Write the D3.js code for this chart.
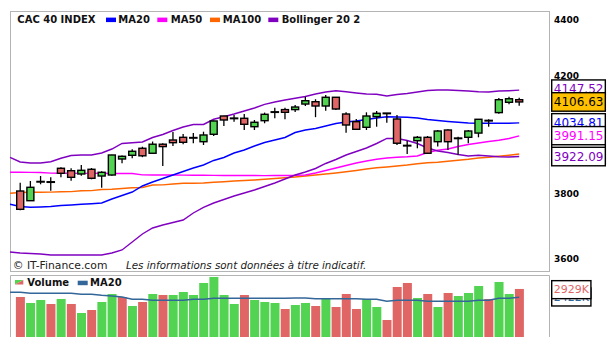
<!DOCTYPE html>
<html>
<head>
<meta charset="utf-8">
<script src="https://cdn.jsdelivr.net/npm/d3@7"></script>
<style>
body { margin: 0; background: #fff; }
text { font-family: "DejaVu Sans", Verdana, sans-serif; }
</style>
</head>
<body>
<div id="chart"></div>
<script>
// 50 sessions, CAC 40 daily candles
var opens  = [3809.9,3778.9,3839.5,3839.0,3883.5,3875.6,3864.9,3880.2,3858.3,3861.6,
              3914.0,3926.2,3949.5,3932.9,3963.0,3977.1,3986.1,3984.0,3971.4,3996.3,
              4058.3,4050.0,4050.5,4021.9,4042.3,4071.5,4080.2,4080.2,4099.4,4107.4,
              4092.6,4122.8,4065.1,4038.9,4019.9,4055.9,4068.5,4048.1,3958.5,3974.7,
              3986.1,3971.4,4010.7,3982.5,3986.1,4000.4,4042.5,4069.9,4105.4,4114.4];
var highs  = [3836.6,3842.2,3858.3,3854.1,3886.8,3883.5,3894.3,3884.5,3873.7,3928.2,
              3925.5,3946.1,3954.8,3972.0,3966.3,4003.7,3997.2,4000.4,4005.0,4043.0,
              4059.3,4061.7,4065.1,4044.7,4069.9,4087.0,4087.0,4096.0,4124.8,4116.0,
              4130.7,4124.0,4070.9,4048.1,4070.9,4075.5,4068.8,4061.7,3974.7,3990.6,
              3990.6,4010.7,4013.1,3988.2,4010.7,4047.1,4047.1,4120.3,4124.8,4120.9];
var lows   = [3749.0,3778.0,3831.5,3810.9,3854.1,3843.1,3859.3,3847.6,3820.5,3859.3,
              3899.9,3916.3,3920.0,3932.0,3891.0,3957.1,3963.0,3966.3,3960.4,3990.6,
              4024.3,4038.9,4010.7,4010.7,4033.5,4050.5,4047.1,4072.0,4092.6,4054.3,
              4076.5,4078.9,4001.6,4010.7,4010.7,4021.9,4034.9,3960.4,3930.5,3949.5,
              3930.5,3955.1,3943.8,3927.2,3966.3,3986.1,4021.9,4066.1,4098.4,4093.6];
var closes = [3751.6,3821.8,3840.0,3838.5,3867.1,3854.1,3876.9,3850.9,3870.4,3927.2,
              3922.9,3939.5,3924.5,3963.0,3955.1,3968.1,3969.4,3984.8,3993.9,4041.3,
              4044.7,4050.5,4030.1,4036.9,4064.1,4072.0,4071.0,4089.1,4110.9,4092.6,
              4122.8,4082.3,4027.7,4013.1,4058.3,4067.5,4066.1,3966.3,3958.0,3986.1,
              3932.9,4007.3,3971.4,3983.0,4007.3,4047.1,4042.3,4114.4,4117.7,4106.63];
var prevClose = 3800;

// volumes in thousands
var volumes = [2440,2074,2257,2013,2318,2013,1464,1647,2135,2623,
               2440,1891,2135,2623,2562,2562,2745,2562,3294,3660,
               2562,2013,2562,2257,2135,2074,1708,1952,2074,1891,
               2318,1830,2623,1708,2318,1830,1037,3050,3294,2379,
               2623,1830,2684,2501,2684,3111,2318,3355,2623,2929];

// indicator lines: first value is the session before the first candle
var ma20 = [3767.5,3760.5,3758.0,3758.9,3760.5,3763.7,3765.3,3767.5,3769.4,3771.6,3784.3,
            3795.5,3806.7,3826.0,3838.9,3850.3,3861.6,3873.0,3884.4,3894.3,3909.1,
            3918.9,3933.8,3943.8,3957.1,3968.8,3977.1,3985.5,4002.3,4010.7,4015.8,
            4024.3,4032.8,4037.9,4041.3,4046.4,4051.5,4055.9,4054.9,4053.9,4051.5,
            4046.4,4043.0,4039.6,4036.9,4034.5,4033.5,4033.5,4033.5,4033.5,4034.81];
var ma50 = [3870.4,3870.4,3870.0,3869.5,3867.8,3867.1,3867.1,3866.8,3866.9,3867.1,3866.5,
            3867.0,3866.4,3862.0,3861.6,3861.4,3861.6,3861.2,3861.0,3860.8,3860.3,
            3860.0,3860.0,3859.8,3860.0,3859.6,3859.9,3860.2,3860.5,3861.6,3868.1,
            3876.3,3884.4,3892.7,3900.9,3907.4,3913.0,3917.3,3919.9,3921.2,3923.9,
            3935.5,3943.1,3947.1,3955.4,3962.1,3967.1,3972.1,3976.1,3982.2,3991.15];
var ma100 = [3802.5,3805.2,3805.7,3806.0,3806.4,3807.3,3807.9,3810.5,3811.2,3814.7,3815.4,
             3817.9,3820.5,3821.2,3829.2,3829.6,3832.4,3834.7,3835.0,3835.7,3837.9,
             3839.9,3842.2,3843.8,3845.4,3847.7,3850.3,3852.5,3855.1,3858.3,3861.6,
             3864.9,3868.1,3872.0,3876.3,3881.2,3885.1,3887.7,3891.0,3894.3,3898.5,
             3901.5,3903.5,3906.4,3909.7,3913.0,3917.3,3919.6,3922.9,3926.5,3930.5];
var bbUpper = [3919.6,3904.1,3900.9,3900.9,3905.1,3916.3,3925.5,3927.2,3927.2,3933.8,3947.1,
               3965.4,3968.1,3970.4,3985.5,3995.6,4009.0,4020.9,4029.4,4029.4,4047.1,
               4055.9,4065.1,4075.5,4085.7,4098.4,4106.4,4113.3,4119.5,4125.5,4134.2,
               4141.2,4145.7,4141.9,4137.7,4134.2,4133.2,4127.2,4132.5,4136.0,4141.2,
               4146.4,4148.1,4148.1,4146.4,4144.6,4142.2,4141.2,4144.6,4145.7,4147.52];
var bbLower = [3619.2,3616.1,3614.6,3613.1,3610.0,3610.0,3610.0,3610.0,3610.0,3610.0,3616.1,
               3625.3,3649.8,3674.4,3693.0,3702.4,3710.2,3718.0,3740.0,3757.4,3771.6,
               3782.7,3793.9,3803.5,3813.1,3824.4,3835.7,3848.6,3861.6,3871.4,3882.8,
               3899.2,3912.3,3927.2,3938.8,3950.4,3965.4,3982.2,3982.2,3975.4,3965.4,
               3950.4,3940.5,3935.5,3928.9,3923.9,3926.2,3923.9,3921.6,3920.6,3922.09];
var volMa20 = [2727,2727,2666,2666,2666,2666,2666,2605,2605,2544,2501,
               2440,2300,2300,2239,2239,2239,2239,2300,2300,2361,
               2361,2361,2361,2361,2361,2361,2361,2379,2379,2336,
               2336,2336,2336,2336,2300,2300,2178,2239,2239,2239,
               2178,2178,2178,2178,2178,2239,2239,2361,2361,2422];

var priceTicks = [3600, 3800, 4200, 4400];

var RED = "#e06666", GREEN = "#52d452", PURPLE = "#8000c0";

var svg = d3.select("#chart").append("svg")
    .attr("width", 612)
    .attr("height", 354);

var x = d3.scaleLinear().domain([0, 49]).range([20.2, 519.2]);
var y = d3.scaleLog().domain([3600, 4400]).range([258.3, 20]);
var yv = d3.scaleLinear().domain([0, 4000]).range([337, 271.4]);

// frames
svg.append("rect")
    .attr("x", 10.5).attr("y", 11.5)
    .attr("width", 539).attr("height", 260)
    .attr("fill", "none").attr("stroke", "#b4b4b4");
svg.append("path")
    .attr("d", "M10.5,337V275.5H549.5V337")
    .attr("fill", "none").attr("stroke", "#b4b4b4");

// price axis labels
svg.selectAll(".tick-label")
    .data(priceTicks)
    .enter().append("text")
    .attr("class", "tick-label")
    .attr("x", 554)
    .attr("y", function (d) { return y(d) + 3.3; })
    .style("font-size", "9px")
    .style("font-weight", "bold")
    .text(function (d) { return d; });

// indicator lines
var line = d3.line()
    .x(function (d, i) { return x(i - 1); })
    .y(function (d) { return y(d); });

[[ma100, "#ff6600"], [ma50, "#ff00ff"], [bbUpper, PURPLE], [bbLower, PURPLE], [ma20, "#0000ff"]]
    .forEach(function (s) {
        svg.append("path")
            .datum(s[0])
            .attr("fill", "none")
            .attr("stroke", s[1])
            .attr("stroke-width", 1.4)
            .attr("d", line);
    });

// candles
var candles = opens.map(function (o, i) {
    return { i: i, o: o, h: highs[i], l: lows[i], c: closes[i] };
});

var cg = svg.selectAll(".candle")
    .data(candles)
    .enter().append("g")
    .attr("class", "candle");

cg.append("line")
    .attr("x1", function (d) { return x(d.i); })
    .attr("x2", function (d) { return x(d.i); })
    .attr("y1", function (d) { return y(d.h); })
    .attr("y2", function (d) { return y(d.l); })
    .attr("stroke", "#000")
    .attr("stroke-width", 1.3);

cg.each(function (d) {
    var g = d3.select(this);
    var top = y(Math.max(d.o, d.c)), bot = y(Math.min(d.o, d.c));
    if (bot - top < 1.5) {
        g.append("line")
            .attr("x1", x(d.i) - 4.3).attr("x2", x(d.i) + 4.3)
            .attr("y1", (top + bot) / 2).attr("y2", (top + bot) / 2)
            .attr("stroke", "#000").attr("stroke-width", 2);
    } else {
        g.append("rect")
            .attr("x", x(d.i) - 3.5)
            .attr("width", 7)
            .attr("y", top)
            .attr("height", bot - top)
            .attr("fill", d.c >= d.o ? GREEN : RED)
            .attr("stroke", "#000")
            .attr("stroke-width", 1.4);
    }
});

// volume bars, coloured on close vs previous close
svg.selectAll(".vol")
    .data(volumes)
    .enter().append("rect")
    .attr("class", "vol")
    .attr("x", function (d, i) { return x(i) - 4.3; })
    .attr("width", 9)
    .attr("y", function (d) { return yv(d); })
    .attr("height", function (d) { return yv(0) - yv(d); })
    .attr("fill", function (d, i) {
        var pc = i === 0 ? prevClose : closes[i - 1];
        return closes[i] >= pc ? GREEN : RED;
    });

svg.append("path")
    .datum(volMa20)
    .attr("fill", "none")
    .attr("stroke", "#336699")
    .attr("stroke-width", 1.4)
    .attr("d", d3.line()
        .x(function (d, i) { return x(i - 1); })
        .y(function (d) { return yv(d); }));

// legends
function legendItems(items, baseline) {
    items.forEach(function (it) {
        if (it.color) {
            svg.append("rect")
                .attr("x", it.x).attr("y", baseline - 5)
                .attr("width", 10).attr("height", 4.5)
                .attr("fill", it.color);
        }
        svg.append("text")
            .attr("x", it.tx).attr("y", baseline)
            .style("font-size", "10px")
            .style("font-weight", "bold")
            .attr("fill", "#111")
            .text(it.label);
    });
}
legendItems([
    { tx: 17.3, label: "CAC 40 INDEX" },
    { x: 106, tx: 118.3, color: "#0000ff", label: "MA20" },
    { x: 157.3, tx: 170.7, color: "#ff00ff", label: "MA50" },
    { x: 210, tx: 222.7, color: "#ff6600", label: "MA100" },
    { x: 268.3, tx: 281.7, color: PURPLE, label: "Bollinger 20 2" }
], 22.6);

svg.append("polygon").attr("points", "15,280 23.3,280 15,284.5").attr("fill", GREEN);
svg.append("polygon").attr("points", "23.3,280 23.3,284.5 15,284.5").attr("fill", RED);
legendItems([
    { tx: 27.3, label: "Volume" },
    { x: 77.7, tx: 90, color: "#336699", label: "MA20" }
], 285.7);

// copyright line
svg.append("text")
    .attr("x", 12.7).attr("y", 269.3)
    .style("font-size", "10.8px")
    .attr("fill", "#222")
    .text("© IT-Finance.com");
svg.append("text")
    .attr("x", 126).attr("y", 269.3)
    .style("font-size", "10.3px")
    .style("font-style", "italic")
    .attr("fill", "#222")
    .text("Les informations sont données à titre indicatif.");

// last-value boxes
function valueBox(v, label, color, fill, scale, fs, bh, dy) {
    var cy = scale(v) + dy;
    var g = svg.append("g");
    var r = g.append("rect")
        .attr("x", 551.7).attr("y", cy - bh / 2)
        .attr("height", bh)
        .attr("fill", fill)
        .attr("stroke", "#000").attr("stroke-width", 1.4);
    var t = g.append("text")
        .attr("x", 553.8).attr("y", cy + fs * 0.33)
        .style("font-size", fs + "px")
        .attr("fill", color)
        .text(label);
    r.attr("width", t.node().getComputedTextLength() + 4);
}
var last = 49;
valueBox(ma20[last + 1], ma20[last + 1].toFixed(2), "#0000ff", "#fff", y, 12, 18.5, 0);
valueBox(ma50[last + 1], ma50[last + 1].toFixed(2), "#ff00ff", "#fff", y, 12, 18.5, 0);
valueBox(ma100[last + 1], ma100[last + 1].toFixed(2), "#ff6600", "#fff", y, 12, 18.5, 0);
valueBox(bbUpper[last + 1], bbUpper[last + 1].toFixed(2), PURPLE, "#fff", y, 12, 18.5, -1);
valueBox(bbLower[last + 1], bbLower[last + 1].toFixed(2), PURPLE, "#fff", y, 12, 18.5, 0);
valueBox(closes[last], closes[last].toFixed(2), "#000", "#ffc000", y, 12, 18.5, 0);

valueBox(volMa20[last + 1], volMa20[last + 1] + "K", "#336699", "#fff", yv, 11, 18, -0.3);
valueBox(volumes[last], volumes[last] + "K", RED, "#fff", yv, 11, 18, 0.7);
</script>
</body>
</html>
